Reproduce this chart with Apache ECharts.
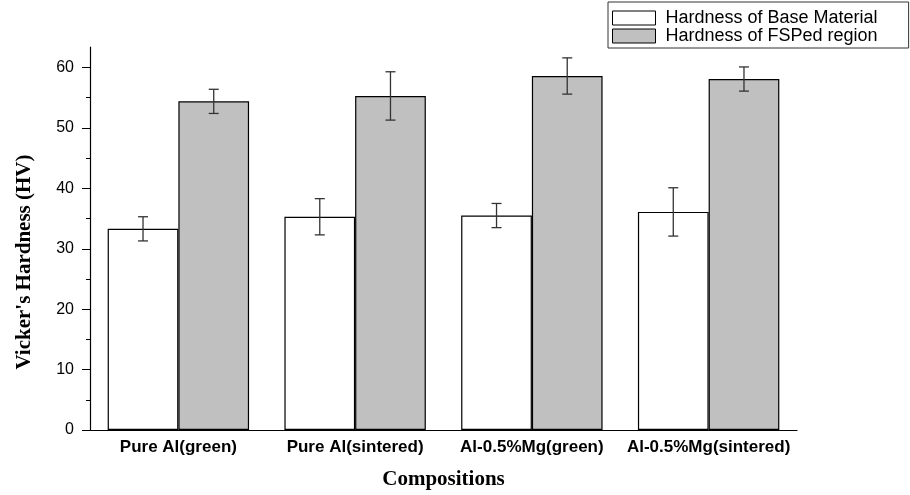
<!DOCTYPE html>
<html>
<head>
<meta charset="utf-8">
<script src="https://cdn.jsdelivr.net/npm/echarts@6/dist/echarts.min.js"></script>
<style>
  html, body { margin: 0; padding: 0; background: #fff; }
  #myCharts { width: 910px; height: 495px; }
</style>
</head>
<body>
<div id="myCharts"></div>
<script>
// data
const categories = ["Pure Al(green)", "Pure Al(sintered)", "Al-0.5%Mg(green)", "Al-0.5%Mg(sintered)"];
const baseHardness = [33.3, 35.3, 35.5, 36.1];
const baseError = [2.0, 3.0, 2.0, 4.0];
const fspHardness = [54.4, 55.3, 58.6, 58.1];
const fspError = [2.0, 4.0, 3.0, 2.0];
const yTicks = [0, 10, 20, 30, 40, 50, 60];
const yMinorTicks = [5, 15, 25, 35, 45, 55];

const myCharts = echarts.init(document.getElementById("myCharts"));

// error bars drawn on top of bars, side -1 = left bar, 1 = right bar
function errorBars(values, errors, side) {
  return {
    type: "custom",
    silent: true,
    z: 5,
    data: values.map((v, i) => [i, v - errors[i], v + errors[i]]),
    encode: { x: 0, y: [1, 2] },
    renderItem: function (params, api) {
      const band = api.size([1, 0])[0];
      const barW = (band * 0.8) / 2;
      const lo = api.coord([api.value(0), api.value(1)]);
      const hi = api.coord([api.value(0), api.value(2)]);
      const x = lo[0] + (side * barW) / 2;
      const cap = 5;
      const style = { stroke: "#333", lineWidth: 1.3 };
      return {
        type: "group",
        children: [
          { type: "line", shape: { x1: x, y1: lo[1], x2: x, y2: hi[1] }, style: style },
          { type: "line", shape: { x1: x - cap, y1: lo[1], x2: x + cap, y2: lo[1] }, style: style },
          { type: "line", shape: { x1: x - cap, y1: hi[1], x2: x + cap, y2: hi[1] }, style: style }
        ]
      };
    }
  };
}

const option = {
  animation: false,
  backgroundColor: "#fff",
  textStyle: { fontFamily: "Liberation Sans" },
  legend: {
    data: ["Hardness of Base Material", "Hardness of FSPed region"],
    orient: "vertical",
    left: 608,
    top: 2,
    padding: [7, 31, 3, 4],
    itemGap: 0,
    itemWidth: 43,
    itemHeight: 14,
    icon: "rect",
    borderColor: "#333",
    borderWidth: 1,
    itemStyle: { borderColor: "#000", borderWidth: 1 },
    textStyle: { fontSize: 18, color: "#000", lineHeight: 16, padding: [0, 0, 0, 5] }
  },
  grid: { left: 90, right: 113, top: 47, bottom: 62 },
  xAxis: [
    {
      type: "category",
      data: categories,
      name: "Compositions",
      nameLocation: "middle",
      nameGap: 39,
      nameTextStyle: { fontFamily: "Liberation Serif", fontWeight: "bold", fontSize: 21, color: "#000" },
      axisLine: { lineStyle: { color: "#000", width: 1.2 } },
      axisTick: { alignWithLabel: true, length: 6, lineStyle: { color: "#000" } },
      axisLabel: { interval: 0, fontSize: 17, fontWeight: "bold", color: "#000", margin: 9 }
    },
    {
      // boundary ticks only
      type: "category",
      data: categories,
      position: "bottom",
      axisLine: { show: false },
      axisTick: { length: 4, lineStyle: { color: "#000" } },
      axisLabel: { show: false }
    }
  ],
  yAxis: [
    {
      type: "value",
      min: 0,
      max: 63.4,
      interval: 10,
      name: "Vicker's Hardness (HV)",
      nameLocation: "middle",
      nameGap: 55,
      nameTextStyle: {
        fontFamily: "Liberation Serif",
        fontWeight: "bold",
        fontSize: 21,
        color: "#000",
        padding: [0, 47, 0, 0]
      },
      axisLine: { show: true, lineStyle: { color: "#000", width: 1.2 } },
      axisTick: { show: true, length: 8, customValues: yTicks, lineStyle: { color: "#000" } },
      axisLabel: { customValues: yTicks, fontSize: 16, color: "#000", margin: 16 },
      splitLine: { show: false }
    },
    {
      // minor ticks
      type: "value",
      min: 0,
      max: 63.4,
      position: "left",
      axisLine: { show: false },
      axisTick: { show: true, length: 4, customValues: yMinorTicks, lineStyle: { color: "#000" } },
      axisLabel: { show: false },
      splitLine: { show: false }
    }
  ],
  series: [
    {
      name: "Hardness of Base Material",
      type: "bar",
      data: baseHardness,
      barGap: "0%",
      barCategoryGap: "20%",
      itemStyle: { color: "#fff", borderColor: "#000", borderWidth: 1.2 }
    },
    {
      name: "Hardness of FSPed region",
      type: "bar",
      data: fspHardness,
      barGap: "0%",
      barCategoryGap: "20%",
      itemStyle: { color: "#c0c0c0", borderColor: "#000", borderWidth: 1.2 }
    },
    errorBars(baseHardness, baseError, -1),
    errorBars(fspHardness, fspError, 1)
  ]
};

myCharts.setOption(option);
</script>
</body>
</html>
